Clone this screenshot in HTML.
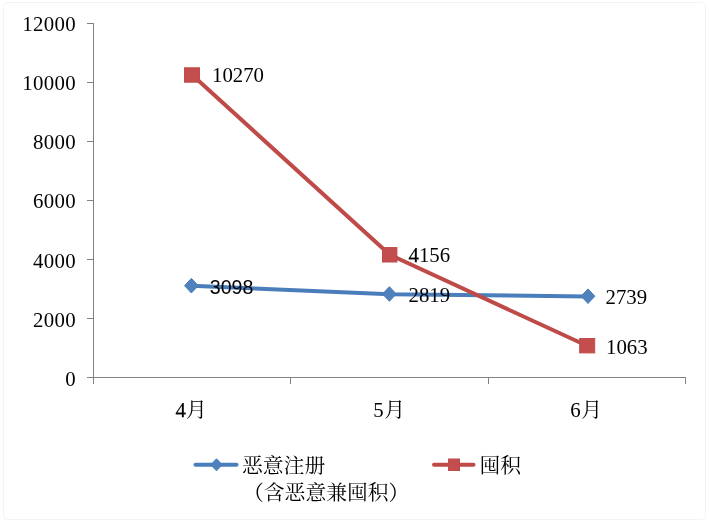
<!DOCTYPE html>
<html lang="zh-CN">
<head>
<meta charset="utf-8">
<title>恶意注册与囤积</title>
<style>
html,body{margin:0;padding:0;background:#fff;}
body{width:709px;height:521px;overflow:hidden;}
svg{display:block;}
.ax{font-family:"Liberation Sans","Noto Sans CJK SC",sans-serif;font-size:18.67px;fill:#000;}
.sf{font-family:"Liberation Serif","Noto Serif CJK SC",serif;font-size:20.8px;fill:#000;}
.cj{font-family:"Liberation Serif","Noto Serif CJK SC",serif;font-size:20.8px;fill:#000;}
</style>
</head>
<body>
<svg width="709" height="521" viewBox="0 0 709 521">
<rect x="0" y="0" width="709" height="521" fill="#ffffff"/>
<rect x="3.5" y="2.5" width="702" height="517" rx="4" fill="none" stroke="#f3f3f3" stroke-width="1"/>
<!-- axes -->
<g stroke="#828282" stroke-width="1" fill="none" shape-rendering="crispEdges">
<line x1="93.5" y1="23" x2="93.5" y2="384"/>
<line x1="87" y1="23.5" x2="94" y2="23.5"/>
<line x1="87" y1="82.5" x2="94" y2="82.5"/>
<line x1="87" y1="141.5" x2="94" y2="141.5"/>
<line x1="87" y1="200.5" x2="94" y2="200.5"/>
<line x1="87" y1="259.5" x2="94" y2="259.5"/>
<line x1="87" y1="318.5" x2="94" y2="318.5"/>
<line x1="87" y1="377.5" x2="686" y2="377.5"/>
<line x1="290.5" y1="377" x2="290.5" y2="384"/>
<line x1="488.5" y1="377" x2="488.5" y2="384"/>
<line x1="685.5" y1="377" x2="685.5" y2="384"/>
</g>
<!-- y labels -->
<g class="sf" text-anchor="end" letter-spacing="0.35">
<text x="75.9" y="31">12000</text>
<text x="75.9" y="90">10000</text>
<text x="75.9" y="149.2">8000</text>
<text x="75.9" y="208.4">6000</text>
<text x="75.9" y="267.5">4000</text>
<text x="75.9" y="326.7">2000</text>
<text x="75.9" y="385.8">0</text>
</g>
<!-- series -->
<polyline points="191.5,285.8 389.5,294.2 588,296.5" fill="none" stroke="#4a7ebb" stroke-width="4" stroke-linecap="round" stroke-linejoin="round"/>
<polyline points="192,74.8 389.8,254.8 587,345.8" fill="none" stroke="#be4b48" stroke-width="4" stroke-linecap="round" stroke-linejoin="round"/>
<g fill="#4f81bd" stroke="#4a7ebb" stroke-width="1">
<path d="M191.4 278.4l6.9 7.3-6.9 7.3-6.9-7.3z"/>
<path d="M389.4 286.7l6.9 7.3-6.9 7.3-6.9-7.3z"/>
<path d="M588 288.9l6.9 7.3-6.9 7.3-6.9-7.3z"/>
</g>
<g fill="#c44e4d" stroke="#c04b4a" stroke-width="1">
<rect x="184.5" y="67.8" width="15" height="14.4"/>
<rect x="382.5" y="247.6" width="14.4" height="14.4"/>
<rect x="579.7" y="338.5" width="15" height="14.4"/>
</g>
<!-- data labels -->
<text class="ax" x="209.8" y="294" style="font-size:19.6px">3098</text>
<text class="sf" x="212" y="82">10270</text>
<text class="sf" x="408.5" y="262"><tspan stroke="#000" stroke-width="0.25">4</tspan>156</text>
<text class="sf" x="408.5" y="302">2819</text>
<text class="sf" x="605.5" y="304">2739</text>
<text class="sf" x="606" y="353.5">1063</text>
<!-- x labels -->
<text class="sf" x="175.5" y="417"><tspan stroke="#000" stroke-width="0.25">4</tspan>月</text>
<text class="sf" x="373.2" y="417">5<tspan dx="0.6">月</tspan></text>
<text class="sf" x="570.3" y="417">6<tspan dx="0.5">月</tspan></text>
<!-- legend -->
<line x1="195.5" y1="464.8" x2="236.5" y2="464.8" stroke="#4a7ebb" stroke-width="4" stroke-linecap="round"/>
<path d="M216.5 458.8l5.8 6-5.8 6-5.8-6z" fill="#4f81bd" stroke="#4a7ebb" stroke-width="1"/>
<text class="cj" x="242" y="472.8">恶意注册</text>
<text class="cj" x="243" y="500">（含恶意兼囤积）</text>
<line x1="434" y1="464.8" x2="473.5" y2="464.8" stroke="#be4b48" stroke-width="4" stroke-linecap="round"/>
<rect x="448.5" y="459" width="11" height="11.5" fill="#c44e4d" stroke="#c04b4a" stroke-width="1"/>
<text class="cj" x="479.5" y="472.8">囤积</text>
</svg>
</body>
</html>
